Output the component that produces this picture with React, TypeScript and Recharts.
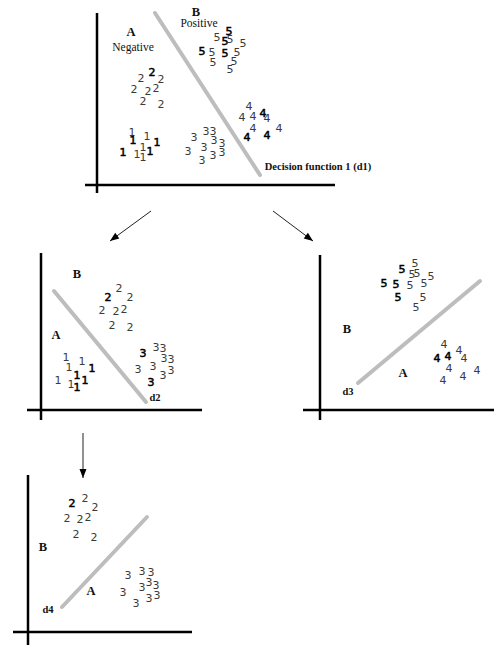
import { ScatterChart, Scatter, XAxis, YAxis, ReferenceLine } from "recharts";

// diagram space: x 0..494 left to right, y 0..645 top to bottom

type Pt = { x: number; y: number; heavy?: boolean };
type Seg = { x1: number; y1: number; x2: number; y2: number };
type Lbl = { x: number; y: number; text: string; kind: "letter" | "word" | "tag" };

// panel 1 (all classes, d1)
const p1Ones: Pt[] = [
  { x: 132, y: 132 }, { x: 133, y: 140, heavy: true }, { x: 147, y: 136 },
  { x: 157, y: 142, heavy: true }, { x: 123, y: 152, heavy: true }, { x: 137, y: 154 },
  { x: 143, y: 147 }, { x: 143, y: 157 }, { x: 150, y: 151, heavy: true },
];
const p1Twos: Pt[] = [
  { x: 141, y: 78 }, { x: 152, y: 72, heavy: true }, { x: 161, y: 79 },
  { x: 134, y: 89 }, { x: 148, y: 91 }, { x: 156, y: 88 },
  { x: 143, y: 101 }, { x: 161, y: 104 },
];
const p1Threes: Pt[] = [
  { x: 194, y: 137 }, { x: 206, y: 131 }, { x: 213, y: 131 }, { x: 214, y: 140 },
  { x: 222, y: 143 }, { x: 222, y: 152 }, { x: 204, y: 147 }, { x: 188, y: 151 },
  { x: 202, y: 160 }, { x: 213, y: 155 },
];
const p1Fours: Pt[] = [
  { x: 249, y: 106 }, { x: 242, y: 117 }, { x: 253, y: 116 }, { x: 263, y: 113, heavy: true },
  { x: 267, y: 118 }, { x: 253, y: 128 }, { x: 247, y: 137, heavy: true },
  { x: 267, y: 135, heavy: true }, { x: 279, y: 128 },
];
const p1Fives: Pt[] = [
  { x: 229, y: 31, heavy: true }, { x: 217, y: 37 }, { x: 225, y: 41, heavy: true },
  { x: 230, y: 39 }, { x: 243, y: 43 }, { x: 202, y: 51, heavy: true }, { x: 212, y: 52 },
  { x: 225, y: 53, heavy: true }, { x: 237, y: 52 }, { x: 213, y: 62 }, { x: 234, y: 61 },
  { x: 230, y: 69 },
];

// panel 2 (classes 1,2,3, d2)
const p2Ones: Pt[] = [
  { x: 66, y: 357 }, { x: 69, y: 367 }, { x: 82, y: 361 }, { x: 92, y: 368, heavy: true },
  { x: 58, y: 380 }, { x: 71, y: 384 }, { x: 77, y: 375, heavy: true },
  { x: 77, y: 387, heavy: true }, { x: 85, y: 380, heavy: true },
];
const p2Twos: Pt[] = [
  { x: 119, y: 288 }, { x: 108, y: 297, heavy: true }, { x: 130, y: 297 },
  { x: 102, y: 310 }, { x: 116, y: 311 }, { x: 124, y: 309 },
  { x: 112, y: 325 }, { x: 130, y: 327 },
];
const p2Threes: Pt[] = [
  { x: 143, y: 353, heavy: true }, { x: 156, y: 347 }, { x: 163, y: 348 },
  { x: 164, y: 358 }, { x: 171, y: 359 }, { x: 153, y: 366 }, { x: 138, y: 369 },
  { x: 163, y: 375 }, { x: 171, y: 370 }, { x: 151, y: 382, heavy: true },
];

// panel 3 (classes 4,5, d3)
const p3Fives: Pt[] = [
  { x: 415, y: 263 }, { x: 402, y: 269, heavy: true }, { x: 412, y: 274 }, { x: 417, y: 273 },
  { x: 431, y: 276 }, { x: 384, y: 283, heavy: true }, { x: 396, y: 284, heavy: true },
  { x: 410, y: 285 }, { x: 424, y: 283 }, { x: 398, y: 297, heavy: true },
  { x: 423, y: 297 }, { x: 416, y: 307 },
];
const p3Fours: Pt[] = [
  { x: 444, y: 344 }, { x: 437, y: 358, heavy: true }, { x: 448, y: 356, heavy: true },
  { x: 459, y: 350 }, { x: 464, y: 358 }, { x: 449, y: 368 }, { x: 443, y: 380 },
  { x: 463, y: 376 }, { x: 477, y: 370 },
];

// panel 4 (classes 2,3, d4)
const p4Twos: Pt[] = [
  { x: 85, y: 498 }, { x: 72, y: 503, heavy: true }, { x: 95, y: 507 },
  { x: 67, y: 518 }, { x: 80, y: 519 }, { x: 88, y: 517 },
  { x: 76, y: 534 }, { x: 94, y: 537 },
];
const p4Threes: Pt[] = [
  { x: 128, y: 575 }, { x: 142, y: 571 }, { x: 151, y: 572 }, { x: 142, y: 587 },
  { x: 149, y: 582 }, { x: 156, y: 585 }, { x: 123, y: 592 }, { x: 149, y: 598 },
  { x: 157, y: 595 }, { x: 136, y: 603 },
];

const frameLines: Seg[] = [
  { x1: 97, y1: 13, x2: 97, y2: 193 }, { x1: 85, y1: 185, x2: 335, y2: 185 },
  { x1: 41, y1: 253, x2: 41, y2: 420 }, { x1: 27, y1: 410, x2: 202, y2: 410 },
  { x1: 320, y1: 255, x2: 320, y2: 420 }, { x1: 303, y1: 410, x2: 494, y2: 410 },
  { x1: 28, y1: 475, x2: 28, y2: 645 }, { x1: 13, y1: 632, x2: 192, y2: 632 },
];

const decisionLines: Seg[] = [
  { x1: 155, y1: 13, x2: 260, y2: 175 },
  { x1: 54, y1: 291, x2: 146, y2: 402 },
  { x1: 358, y1: 383, x2: 480, y2: 281 },
  { x1: 62, y1: 607, x2: 147, y2: 517 },
];

const arrows: Seg[] = [
  { x1: 151, y1: 211, x2: 110, y2: 241 },
  { x1: 273, y1: 211, x2: 313, y2: 241 },
  { x1: 83, y1: 433, x2: 83, y2: 478 },
];

const labels: Lbl[] = [
  { x: 131, y: 32, text: "A", kind: "letter" },
  { x: 133, y: 47, text: "Negative", kind: "word" },
  { x: 196, y: 12, text: "B", kind: "letter" },
  { x: 199, y: 23, text: "Positive", kind: "word" },
  { x: 318, y: 166, text: "Decision function 1 (d1)", kind: "tag" },
  { x: 77, y: 274, text: "B", kind: "letter" },
  { x: 56, y: 335, text: "A", kind: "letter" },
  { x: 155, y: 397, text: "d2", kind: "tag" },
  { x: 347, y: 329, text: "B", kind: "letter" },
  { x: 403, y: 373, text: "A", kind: "letter" },
  { x: 348, y: 391, text: "d3", kind: "tag" },
  { x: 43, y: 547, text: "B", kind: "letter" },
  { x: 91, y: 591, text: "A", kind: "letter" },
  { x: 48, y: 609, text: "d4", kind: "tag" },
];

const digitSets: { digit: string; pts: Pt[] }[] = [
  { digit: "1", pts: p1Ones }, { digit: "2", pts: p1Twos }, { digit: "3", pts: p1Threes },
  { digit: "4", pts: p1Fours }, { digit: "5", pts: p1Fives },
  { digit: "1", pts: p2Ones }, { digit: "2", pts: p2Twos }, { digit: "3", pts: p2Threes },
  { digit: "5", pts: p3Fives }, { digit: "4", pts: p3Fours },
  { digit: "2", pts: p4Twos }, { digit: "3", pts: p4Threes },
];

const serif = "'Liberation Serif', 'Times New Roman', serif";

const digitShape = (digit: string) => (props: any) => {
  const { cx, cy, payload } = props;
  return (
    <text
      x={cx}
      y={cy}
      textAnchor="middle"
      dominantBaseline="central"
      fontFamily="'DejaVu Sans', sans-serif"
      fontSize={11}
      fill={payload.heavy ? "#000" : "#3a3a3a"}
      stroke={payload.heavy ? "#000" : "none"}
      strokeWidth={payload.heavy ? 0.5 : 0}
    >
      {digit}
    </text>
  );
};

const labelShape = (props: any) => {
  const { cx, cy, payload } = props;
  const bold = payload.kind !== "word";
  const size = payload.kind === "letter" ? 12.5 : payload.kind === "word" ? 11.5 : 10.5;
  return (
    <text
      x={cx}
      y={cy}
      textAnchor="middle"
      dominantBaseline="central"
      fontFamily={serif}
      fontSize={size}
      fontWeight={bold ? 700 : 400}
      fill="#111"
    >
      {payload.text}
    </text>
  );
};

// arrowhead at the end point, pointed along the arrow
const headShape = (props: any) => {
  const { cx, cy, payload } = props;
  const ang = Math.atan2(payload.y - payload.fy, payload.x - payload.fx);
  const len = 9;
  const half = 3.5;
  const bx = cx - len * Math.cos(ang);
  const by = cy - len * Math.sin(ang);
  const px = -Math.sin(ang) * half;
  const py = Math.cos(ang) * half;
  return (
    <polygon
      points={`${cx},${cy} ${bx + px},${by + py} ${bx - px},${by - py}`}
      fill="#000"
    />
  );
};

const arrowHeads = arrows.map((a) => ({ x: a.x2, y: a.y2, fx: a.x1, fy: a.y1 }));

export default function App() {
  return (
    <div style={{ position: "absolute", left: 0, top: 0, background: "#fff" }}>
      <ScatterChart width={494} height={645} margin={{ top: 0, right: 0, bottom: 0, left: 0 }}>
        <XAxis type="number" dataKey="x" domain={[0, 494]} hide allowDataOverflow />
        <YAxis type="number" dataKey="y" domain={[0, 645]} reversed hide allowDataOverflow />
        {decisionLines.map((s, i) => (
          <ReferenceLine
            key={"d" + i}
            segment={[{ x: s.x1, y: s.y1 }, { x: s.x2, y: s.y2 }]}
            stroke="#bdbdbd"
            strokeWidth={4}
            strokeLinecap="round"
          />
        ))}
        {frameLines.map((s, i) => (
          <ReferenceLine
            key={"f" + i}
            segment={[{ x: s.x1, y: s.y1 }, { x: s.x2, y: s.y2 }]}
            stroke="#000"
            strokeWidth={2.5}
          />
        ))}
        {arrows.map((s, i) => (
          <ReferenceLine
            key={"a" + i}
            segment={[{ x: s.x1, y: s.y1 }, { x: s.x2, y: s.y2 }]}
            stroke="#222"
            strokeWidth={1}
          />
        ))}
        <Scatter data={arrowHeads} shape={headShape} isAnimationActive={false} />
        {digitSets.map((d, i) => (
          <Scatter
            key={"s" + i}
            data={d.pts}
            shape={digitShape(d.digit)}
            isAnimationActive={false}
          />
        ))}
        <Scatter data={labels} shape={labelShape} isAnimationActive={false} />
      </ScatterChart>
    </div>
  );
}
